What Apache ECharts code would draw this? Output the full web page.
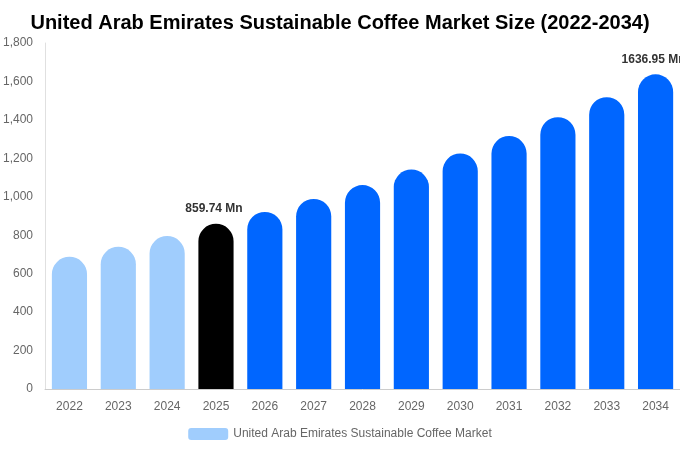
<!DOCTYPE html>
<html><head><meta charset="utf-8">
<script src="https://cdn.jsdelivr.net/npm/echarts@6/dist/echarts.min.js"></script>
<style>html,body{margin:0;padding:0;background:#fff}#c{width:680px;height:450px}</style>
</head><body><div id="c"></div>
<script>
var years = ['2022','2023','2024','2025','2026','2027','2028','2029','2030','2031','2032','2033','2034'];
var values = [688, 740, 796, 859.74, 921, 989, 1061, 1142, 1225, 1316, 1414, 1518, 1636.95];
var yTicks = [0, 200, 400, 600, 800, 1000, 1200, 1400, 1600, 1800];
var seriesName = 'United Arab Emirates Sustainable Coffee Market';
var labelled = {'2025': '859.74 Mn', '2034': '1636.95 Mn'};

var chart = echarts.init(document.getElementById('c'));
var data = values.map(function(v, i){
  var y = +years[i];
  var color = y < 2025 ? '#a0cdfd' : (y === 2025 ? '#000000' : '#0066ff');
  var item = {value: v, itemStyle: {color: color}};
  if (labelled[years[i]]) {
    item.label = {show: true, position: 'top', formatter: labelled[years[i]],
      color: '#333', fontWeight: 'bold', fontSize: 12, fontFamily: 'Liberation Sans, Arial, sans-serif', distance: 9,
      offset: [-2, 0]};
  }
  return item;
});
chart.setOption({
  animation: false,
  title: {text: 'United Arab Emirates Sustainable Coffee Market Size (2022-2034)', left: 'center', top: 8,
    textStyle: {fontSize: 20, fontWeight: 'bold', color: '#000', fontFamily: 'Liberation Sans, Arial, sans-serif'}},
  legend: {bottom: 5, left: 'center', itemWidth: 40, itemHeight: 12, itemGap: 6,
    textStyle: {color: '#666', fontSize: 12, fontFamily: 'Liberation Sans, Arial, sans-serif'},
    data: [{name: seriesName, itemStyle: {color: '#a0cdfd'}}]},
  grid: {left: 44, right: 0, top: 43, bottom: 61},
  xAxis: {type: 'category', data: years,
    axisLine: {lineStyle: {color: '#ccc'}}, axisTick: {show: false},
    axisLabel: {color: '#666', fontSize: 12, margin: 12, fontFamily: 'Liberation Sans, Arial, sans-serif'}},
  yAxis: {type: 'value', min: yTicks[0], max: yTicks[yTicks.length-1], interval: 200,
    axisLine: {show: true, lineStyle: {color: '#e0e0e0'}}, axisTick: {show: false}, splitLine: {show: false},
    axisLabel: {color: '#666', fontSize: 12, margin: 12, fontFamily: 'Liberation Sans, Arial, sans-serif',
      formatter: function(v){ return v.toLocaleString('en-US'); }}},
  series: [{name: seriesName, type: 'bar', barWidth: '72%', data: data,
    itemStyle: {borderRadius: [18, 18, 0, 0]}}]
});
</script></body></html>
